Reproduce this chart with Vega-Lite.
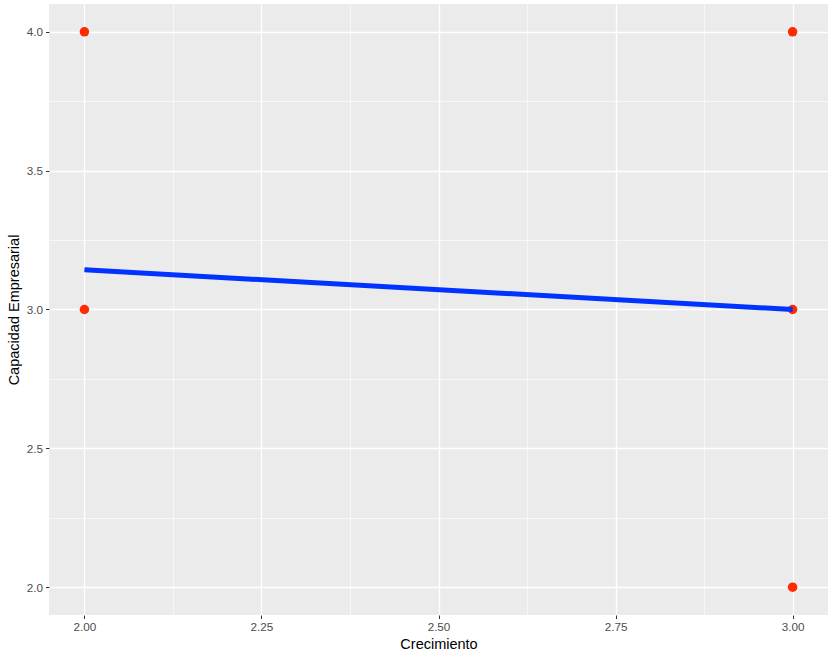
{
  "$schema": "https://vega.github.io/schema/vega-lite/v6.json",
  "width": 779,
  "height": 611,
  "autosize": {"type": "none"},
  "padding": {"left": 49, "top": 4, "right": 8, "bottom": 45},
  "background": "white",
  "config": {
    "view": {"fill": "#ebebeb", "stroke": null},
    "font": "Liberation Sans",
    "axis": {
      "labelFont": "Liberation Sans",
      "titleFont": "Liberation Sans",
      "labelFontSize": 11.7,
      "labelColor": "#4d4d4d",
      "titleFontSize": 14.5,
      "titleFontWeight": "normal",
      "titleColor": "#000000",
      "tickColor": "#333333",
      "tickSize": 3.5,
      "tickWidth": 1,
      "domain": false,
      "gridColor": "#ffffff"
    }
  },
  "datasets": {
    "pts": [
      {"Crecimiento": 2, "Capacidad": 4},
      {"Crecimiento": 2, "Capacidad": 3},
      {"Crecimiento": 3, "Capacidad": 4},
      {"Crecimiento": 3, "Capacidad": 3},
      {"Crecimiento": 3, "Capacidad": 2}
    ],
    "fit": [
      {"Crecimiento": 2, "Capacidad": 3.143},
      {"Crecimiento": 3, "Capacidad": 3.0}
    ]
  },
  "resolve": {"axis": {"x": "independent", "y": "independent"}},
  "layer": [
    {
      "data": {"name": "pts"},
      "mark": {"type": "point", "opacity": 0},
      "encoding": {
        "x": {"field": "Crecimiento", "type": "quantitative",
          "scale": {"domain": [1.95, 3.05], "nice": false, "zero": false},
          "axis": {"orient": "bottom", "values": [2.125, 2.375, 2.625, 2.875], "grid": true, "gridWidth": 0.6, "labels": false, "ticks": false, "title": null}},
        "y": {"field": "Capacidad", "type": "quantitative",
          "scale": {"domain": [1.9, 4.1], "nice": false, "zero": false},
          "axis": {"orient": "left", "values": [2.25, 2.75, 3.25, 3.75], "grid": true, "gridWidth": 0.6, "labels": false, "ticks": false, "title": null}}
      }
    },
    {
      "data": {"name": "pts"},
      "mark": {"type": "circle", "size": 90, "color": "#ff2a00", "opacity": 1},
      "encoding": {
        "x": {"field": "Crecimiento", "type": "quantitative",
          "scale": {"domain": [1.95, 3.05], "nice": false, "zero": false},
          "axis": {"orient": "bottom", "values": [2, 2.25, 2.5, 2.75, 3], "format": ".2f", "grid": true, "gridWidth": 1.3, "labelPadding": 3, "titlePadding": 4, "title": "Crecimiento"}},
        "y": {"field": "Capacidad", "type": "quantitative",
          "scale": {"domain": [1.9, 4.1], "nice": false, "zero": false},
          "axis": {"orient": "left", "values": [2, 2.5, 3, 3.5, 4], "format": ".1f", "grid": true, "gridWidth": 1.3, "labelPadding": 3, "titlePadding": 5, "title": "Capacidad Empresarial"}}
      }
    },
    {
      "data": {"name": "fit"},
      "mark": {"type": "line", "color": "#0033ff", "strokeWidth": 5, "strokeCap": "butt"},
      "encoding": {
        "x": {"field": "Crecimiento", "type": "quantitative", "scale": {"domain": [1.95, 3.05], "nice": false, "zero": false}, "axis": null},
        "y": {"field": "Capacidad", "type": "quantitative", "scale": {"domain": [1.9, 4.1], "nice": false, "zero": false}, "axis": null}
      }
    }
  ]
}
